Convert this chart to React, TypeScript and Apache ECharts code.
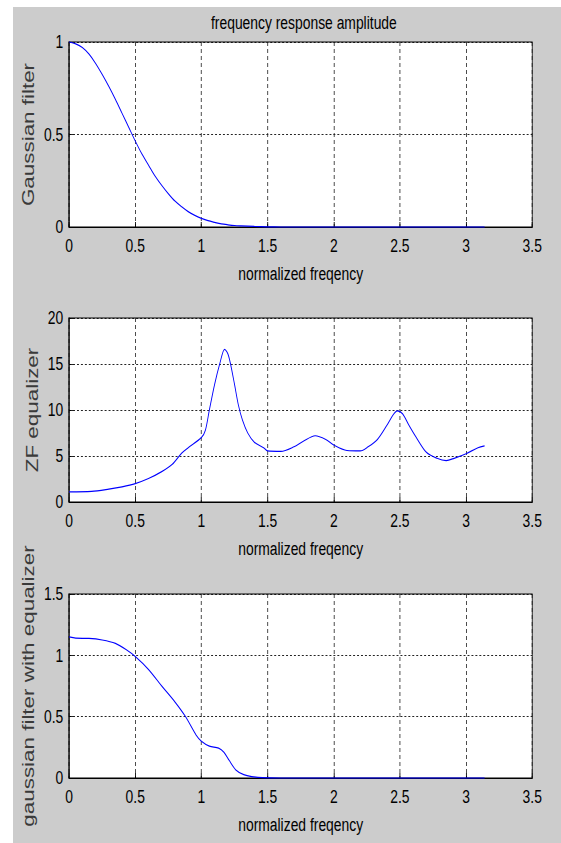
import React, { useEffect, useRef } from "react";
import * as echarts from "echarts";

// ---- data ----
const freqGauss = [0, 0.05, 0.1, 0.15, 0.2, 0.25, 0.3, 0.35, 0.4, 0.45, 0.5, 0.55, 0.6, 0.65, 0.7, 0.75, 0.8, 0.85, 0.9, 0.95, 1.0, 1.05, 1.1, 1.15, 1.2, 1.25, 1.3, 1.4, 1.5, 1.6, 2.0, 2.5, 3.0, 3.14];
const gaussianFilter = [1.0, 0.99, 0.97, 0.935, 0.885, 0.825, 0.76, 0.69, 0.615, 0.54, 0.465, 0.395, 0.335, 0.275, 0.225, 0.18, 0.14, 0.11, 0.083, 0.063, 0.047, 0.034, 0.025, 0.017, 0.012, 0.008, 0.006, 0.003, 0.001, 0, 0, 0, 0, 0];

const freqZF = [0, 0.17, 0.3, 0.4, 0.5, 0.6, 0.7, 0.78, 0.85, 0.9, 1.0, 1.03, 1.06, 1.1, 1.14, 1.175, 1.2, 1.22, 1.25, 1.28, 1.31, 1.35, 1.4, 1.47, 1.5, 1.6, 1.7, 1.77, 1.86, 1.94, 2.0, 2.1, 2.2, 2.26, 2.33, 2.4, 2.45, 2.48, 2.52, 2.57, 2.62, 2.7, 2.78, 2.85, 2.91, 3.0, 3.09, 3.14];
const zfEqualizer = [1.1, 1.15, 1.4, 1.65, 2.0, 2.55, 3.3, 4.1, 5.3, 5.9, 7.0, 7.8, 10.0, 12.8, 15.1, 16.6, 16.1, 15.0, 12.8, 10.5, 8.9, 7.5, 6.5, 5.9, 5.55, 5.5, 6.0, 6.6, 7.2, 6.8, 6.2, 5.6, 5.55, 6.0, 6.8, 8.3, 9.5, 9.9, 9.6, 8.3, 7.1, 5.4, 4.75, 4.5, 4.75, 5.25, 5.9, 6.1];

const freqEq = [0, 0.05, 0.15, 0.25, 0.35, 0.43, 0.5, 0.6, 0.7, 0.8, 0.88, 0.96, 1.0, 1.06, 1.13, 1.17, 1.21, 1.26, 1.32, 1.38, 1.46, 1.6, 2.0, 2.5, 3.0, 3.14];
const gaussWithEq = [1.15, 1.14, 1.138, 1.125, 1.097, 1.047, 0.99, 0.885, 0.75, 0.62, 0.5, 0.35, 0.3, 0.26, 0.244, 0.21, 0.143, 0.066, 0.027, 0.011, 0.003, 0, 0, 0, 0, 0];

const titleText = "frequency response amplitude";
const xName = "normalized freqency";
const yNames = ["Gaussian filter", "ZF equalizer", "gaussian filter with equalizer"];
const yMax = [1, 20, 1.5];
const yInterval = [0.5, 5, 0.5];

const SANS = "'Liberation Sans', Arial, Helvetica, sans-serif";
// the reference figure is horizontally squeezed; draw wide and squeeze with CSS
const SQUEEZE = 561 / 768;
const CHART_W = 768;

const zip = (xs: number[], ys: number[]) => xs.map((x, i) => [x, ys[i]]);

export default function App() {
  const ref = useRef<HTMLDivElement>(null);
  useEffect(() => {
    if (!ref.current) return;
    const chart = echarts.init(ref.current, null, { renderer: "svg" });
    const gridTops = [42, 318, 594];
    const gridHeights = [185, 184, 184];
    const grids = gridTops.map((t, i) => ({
      left: 94.6,
      top: t,
      width: 634,
      height: gridHeights[i],
      show: true,
      backgroundColor: "#ffffff",
      borderColor: "#000000",
      borderWidth: 1.1,
    }));
    const xAxes = [0, 1, 2].map((i) => ({
      type: "value",
      gridIndex: i,
      min: 0,
      max: 3.5,
      interval: 0.5,
      name: xName,
      nameLocation: "middle",
      nameGap: 37,
      nameTextStyle: { fontFamily: SANS, fontSize: 19, color: "#000" },
      axisLine: { show: true, onZero: false, lineStyle: { color: "#000", width: 1.1 } },
      axisTick: { show: true, inside: true, length: 5, lineStyle: { color: "#000", width: 1.2 } },
      axisLabel: { fontFamily: SANS, fontSize: 19, color: "#000", margin: 9 },
      splitLine: { show: true, lineStyle: { color: "#222", width: 1.1, type: [4, 3] } },
    }));
    const yAxes = [0, 1, 2].map((i) => ({
      type: "value",
      gridIndex: i,
      min: 0,
      max: yMax[i],
      interval: yInterval[i],
      name: yNames[i],
      nameLocation: "middle",
      nameRotate: 90,
      nameGap: 32,
      nameTextStyle: { fontFamily: SANS, fontSize: 22.4, color: "#3a3a3a" },
      axisLine: { show: true, lineStyle: { color: "#000", width: 1.4 } },
      axisTick: { show: true, inside: true, length: 6, lineStyle: { color: "#000" } },
      axisLabel: { fontFamily: SANS, fontSize: 19, color: "#000", margin: 8 },
      splitLine: { show: true, lineStyle: { color: "#000", width: 1, type: [2.7, 2.7] } },
    }));
    const datasets = [zip(freqGauss, gaussianFilter), zip(freqZF, zfEqualizer), zip(freqEq, gaussWithEq)];
    const series = datasets.map((d, i) => ({
      type: "line",
      xAxisIndex: i,
      yAxisIndex: i,
      data: d,
      showSymbol: false,
      symbol: "none",
      smooth: 0.3,
      clip: false,
      lineStyle: { color: "#0000ff", width: 1.2 },
      z: 5,
    }));
    chart.setOption({
      animation: false,
      backgroundColor: "transparent",
      title: {
        text: titleText,
        left: 411,
        top: 8,
        textAlign: "center",
        textStyle: { fontFamily: SANS, fontSize: 19, fontWeight: "normal", color: "#000" },
      },
      grid: grids,
      xAxis: xAxes,
      yAxis: yAxes,
      series,
    } as any);
    return () => chart.dispose();
  }, []);
  return (
    <div style={{ position: "absolute", left: 0, top: 0, width: 561, height: 843, background: "#ffffff", overflow: "hidden" }}>
      <div style={{ position: "absolute", left: 13, top: 7, right: 0, bottom: 0, background: "#cccccc" }} />
      <div
        ref={ref}
        style={{
          position: "absolute",
          left: 0,
          top: 0,
          width: CHART_W,
          height: 843,
          transform: `scaleX(${SQUEEZE})`,
          transformOrigin: "0 0",
        }}
      />
    </div>
  );
}
